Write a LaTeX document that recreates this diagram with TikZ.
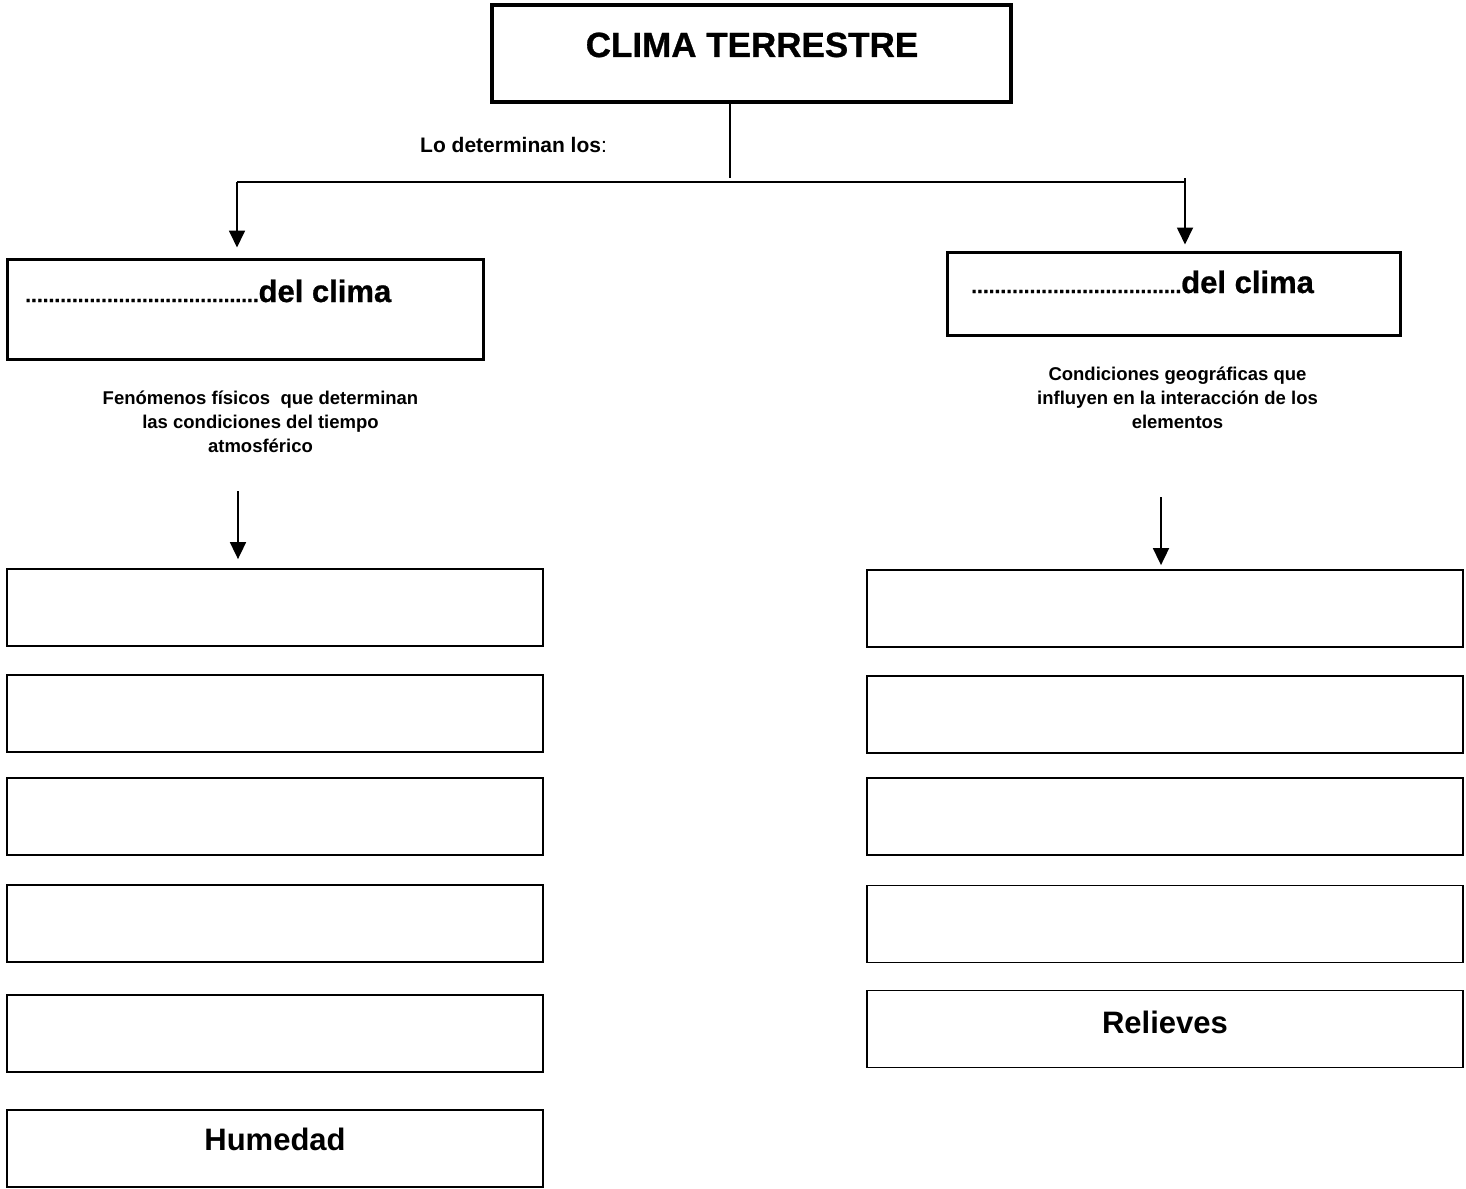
\documentclass[tikz,border=0pt]{standalone}
\usepackage{fontspec}
\setmainfont{Liberation Sans}
\newfontfamily\heavyfont[FakeBold=0.8]{Liberation Sans Bold}
\usetikzlibrary{arrows.meta}
\newcommand{\dotrow}[1]{{\heavyfont\fontsize{21}{25}\selectfont\foreach \i in {1,...,#1}{.}}}
\tikzset{
  titlebox/.style={draw, line width=3.5pt, inner sep=0pt, minimum width=519pt, minimum height=97pt},
  climabox/.style={draw, line width=3pt, inner sep=0pt},
  itembox/.style={draw, line width=1.8pt, inner sep=0pt, minimum height=77pt, font=\bfseries\fontsize{31}{37}\selectfont},
  desc/.style={align=center, inner sep=0pt, font=\bfseries\fontsize{18.5}{24}\selectfont},
  conn/.style={line width=1.8pt},
  arr/.style={conn, -{Triangle[length=17pt,width=16pt]}}
}
\begin{document}
\begin{tikzpicture}[x=1pt, y=-1pt]
\useasboundingbox (0,0) rectangle (1466,1188);
% title
\node[titlebox] (title) at (751.5,53.5) {};
\node[anchor=base, font=\heavyfont\fontsize{35}{42}\selectfont] (titletext) at (752,57) {CLIMA TERRESTRE};
\node[anchor=base west, inner sep=0pt, font=\bfseries\fontsize{21}{25}\selectfont] (lodet) at (420,153) {Lo determinan los{\mdseries:}};
% the two kinds
\node[climabox, minimum width=476pt, minimum height=100pt] (elem) at (245,309) {};
\node[anchor=base west, inner sep=0pt] (elemtext) at (25,302) {\dotrow{40}{\heavyfont\fontsize{31}{37}\selectfont del clima}};
\node[climabox, minimum width=453pt, minimum height=83pt] (fact) at (1173.5,293.5) {};
\node[anchor=base west, inner sep=0pt] (facttext) at (971,293) {\dotrow{36}{\heavyfont\fontsize{31}{37}\selectfont del clima}};
\node[desc] (elemdesc) at (260.5,422) {Fenómenos físicos~ que determinan\\las condiciones del tiempo\\atmosférico};
\node[desc] (factdesc) at (1177.5,398) {Condiciones geográficas que\\influyen en la interacción de los\\elementos};
% connectors
\coordinate (mid) at (730,178);
\coordinate (jl) at (237,182);
\coordinate (jr) at (1185,182);
\draw[conn] (title.south -| mid) -- (mid);
\draw[conn] (jl) -- (jr |- jl);
\draw[conn] (jr |- jl) -- ++(0,-4);
\draw[arr, shorten >=10pt] (jl) -- (jl |- elem.north);
\draw[arr, shorten >=6pt] (jr) -- (jr |- fact.north);
% left column
\node[itembox, minimum width=536pt] (e1) at (275,607.5) {};
\node[itembox, minimum width=536pt] (e2) at (275,713.5) {};
\node[itembox, minimum width=536pt] (e3) at (275,816.5) {};
\node[itembox, minimum width=536pt] (e4) at (275,923.5) {};
\node[itembox, minimum width=536pt] (e5) at (275,1033.5) {};
\node[itembox, minimum width=536pt, text depth=18pt] (e6) at (275,1148.5) {Humedad};
% right column
\node[itembox, minimum width=596pt] (f1) at (1165,608.5) {};
\node[itembox, minimum width=596pt] (f2) at (1165,714.5) {};
\node[itembox, minimum width=596pt] (f3) at (1165,816.5) {};
\node[itembox, minimum width=596pt] (f4) at (1165,924) {};
\node[itembox, minimum width=596pt, text depth=14pt] (f5) at (1165,1029) {Relieves};
\coordinate (al) at (238,491);
\coordinate (ar) at (1161,497);
\draw[arr, shorten >=9pt] (al) -- (al |- e1.north);
\draw[arr, shorten >=4pt] (ar) -- (ar |- f1.north);
\end{tikzpicture}
\end{document}
